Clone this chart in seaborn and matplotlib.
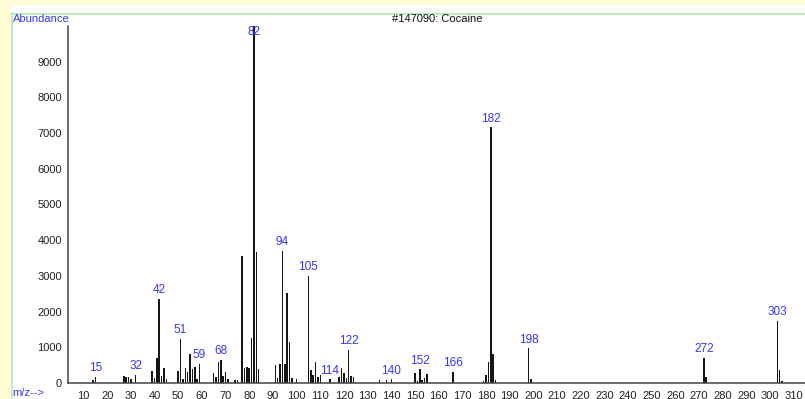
import matplotlib
matplotlib.use("Agg")
import matplotlib.pyplot as plt
from matplotlib.patches import Rectangle
from matplotlib.lines import Line2D
from matplotlib.ticker import MultipleLocator
import seaborn as sns
import pandas as pd

# Cocaine EI mass spectrum (library entry #147090)
mz = [14, 15, 27, 28, 29, 30, 32, 39, 40, 41, 42, 43, 44, 45,
      50, 51, 52, 53, 54, 55, 56, 57, 58, 59, 65, 66, 67, 68, 69, 70, 71,
      74, 75, 77, 78, 79, 80, 81, 82, 83, 84,
      91, 92, 93, 94, 95, 96, 97, 98, 100,
      105, 106, 107, 108, 109, 110, 114, 118, 119, 120, 121, 122, 123, 124,
      135, 138, 140, 150, 151, 152, 153, 154, 155, 166,
      179, 180, 181, 182, 183, 184, 198, 199, 272, 273, 303, 304, 305]
abundance = [85, 170, 195, 170, 170, 120, 225, 335, 130, 700, 2350, 195, 430, 120,
             325, 1230, 120, 430, 300, 800, 390, 460, 120, 540, 290, 160, 600, 640, 190, 315, 120,
             85, 85, 3570, 410, 450, 420, 1260, 9990, 3680, 380,
             510, 140, 540, 3700, 540, 2510, 1140, 140, 120,
             2990, 365, 220, 590, 160, 220, 100, 160, 415, 280, 130, 920, 200, 160,
             75, 75, 100, 290, 50, 380, 75, 140, 250, 320,
             50, 215, 580, 7160, 820, 75, 970, 110, 710, 160, 1740, 375, 50]
labeled_mz = [15, 32, 42, 51, 59, 68, 82, 94, 105, 114, 122, 140, 152, 166, 182, 198, 272, 303]
x_ticks = list(range(10, 311, 10))
y_ticks = list(range(0, 9001, 1000))

title = "#147090: Cocaine"
y_title = "Abundance"
x_title = "m/z-->"

sns.set_style("white")
plt.rcParams["font.family"] = ["Liberation Sans", "DejaVu Sans"]

W, H = 805, 399
fig = plt.figure(figsize=(W / 100, H / 100), dpi=100)
fig.patch.set_facecolor("#fffbd2")

# white report panel with a thin green frame
fig.add_artist(Rectangle((10 / W, 0), 1, (H - 5) / H, transform=fig.transFigure,
                         facecolor="white", edgecolor="none", zorder=0))
green = "#a6eea6"
fig.add_artist(Line2D([11.5 / W, 11.5 / W], [0, (H - 13) / H], transform=fig.transFigure,
                      color=green, lw=1.1, zorder=1))
fig.add_artist(Line2D([11 / W, 1], [(H - 13.5) / H, (H - 13.5) / H], transform=fig.transFigure,
                      color=green, lw=1.1, zorder=1))

x_left, y_bottom, y_top = 67.5, 383, 26
ax = fig.add_axes([x_left / W, (H - y_bottom) / H, (W - x_left) / W, (y_bottom - y_top) / H])
ax.set_facecolor("none")

df = pd.DataFrame({"mz": mz, "abundance": abundance})
sns.barplot(data=df, x="mz", y="abundance", native_scale=True, width=0.65,
            color="#151515", errorbar=None, linewidth=0, ax=ax)

ax.set_xlim(3.25, 314.7)
ax.set_ylim(0, 10000)
ax.set_xlabel("")
ax.set_ylabel("")

axis_col = "#444444"
for side in ("top", "right"):
    ax.spines[side].set_visible(False)
for side in ("left", "bottom"):
    ax.spines[side].set_color(axis_col)
    ax.spines[side].set_linewidth(1.1)

ax.set_xticks(x_ticks)
ax.set_xticklabels([str(t) for t in x_ticks])
ax.xaxis.set_minor_locator(MultipleLocator(2))
ax.set_yticks(y_ticks)
ax.set_yticklabels([str(t) for t in y_ticks])
ax.tick_params(axis="x", which="both", direction="out", length=4, width=0.8,
               color=axis_col, labelsize=8, pad=1.5, labelcolor="#222222")
ax.tick_params(axis="y", which="both", direction="out", length=3, width=0.8,
               color=axis_col, labelsize=8, pad=1, labelcolor="#222222")

blue = "#3535ff"
peak = dict(zip(mz, abundance))
for m in labeled_mz:
    ax.annotate(str(m), xy=(m, min(peak[m], 9600)), xytext=(0, 2),
                textcoords="offset points", ha="center", va="bottom",
                fontsize=8.5, color=blue, annotation_clip=False)

fig.text(13 / W, 1 - 19 / H, y_title, color=blue, fontsize=8, va="center", ha="left")
fig.text(12 / W, 1 - 393 / H, x_title, color=blue, fontsize=8, va="center", ha="left")
fig.text(392 / W, 1 - 19 / H, title, color="#111111", fontsize=8, va="center", ha="left")

fig.savefig("out.png", dpi=100, facecolor=fig.get_facecolor())
